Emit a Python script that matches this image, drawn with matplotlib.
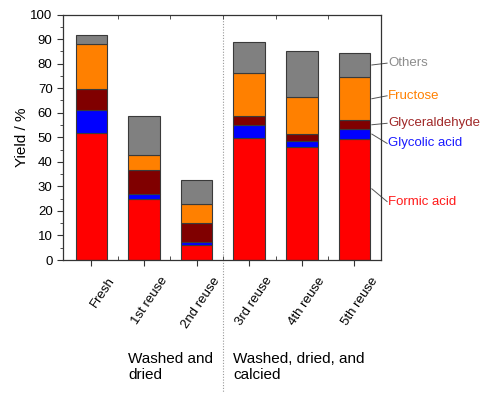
import numpy as np
import matplotlib
matplotlib.use("Agg")
import matplotlib.pyplot as plt
from matplotlib.transforms import ScaledTranslation, blended_transform_factory

plt.rcParams['font.family'] = ['Liberation Sans', 'DejaVu Sans']

# data
samples = ['Fresh', '1st reuse', '2nd reuse', '3rd reuse', '4th reuse', '5th reuse']
formic = [51.9, 24.8, 6.2, 49.8, 46.2, 49.4]
glycolic = [9.3, 2.0, 1.3, 5.1, 2.1, 3.8]
glyceraldehyde = [8.3, 10.0, 7.5, 3.6, 3.0, 3.8]
fructose = [18.6, 5.8, 7.8, 17.8, 15.2, 17.4]
others = [3.7, 15.9, 9.9, 12.4, 18.6, 10.1]

series = [formic, glycolic, glyceraldehyde, fructose, others]
names = ['Formic acid', 'Glycolic acid', 'Glyceraldehyde', 'Fructose', 'Others']
colors = ['#ff0000', '#0000ff', '#800000', '#ff8000', '#808080']
text_colors = ['#ff1a1a', '#1a1aff', '#a02828', '#ff8000', '#8c8c8c']

fig = plt.figure(figsize=(4.82, 3.93), dpi=100)
ax = fig.add_axes([0.1307, 0.3384, 0.6593, 0.6246])

x = np.arange(1, len(samples) + 1)
bottom = np.zeros(len(samples))
for vals, c in zip(series, colors):
    ax.bar(x, vals, 0.6, bottom=bottom, color=c, edgecolor='#3a3a3a', linewidth=0.8, zorder=2)
    bottom += np.array(vals)

ax.set_xlim(0.46, 6.5)
ax.set_ylim(0, 100)
ax.set_yticks(np.arange(0, 101, 10))
ax.set_yticks(np.arange(0, 101, 5), minor=True)
ax.set_xticks(x)
ax.set_xticks(x[:-1] + 0.5, minor=True)
ax.set_xticklabels([])
ax.tick_params(axis='y', which='major', direction='out', length=4, labelsize=9.5, color='#333333')
ax.tick_params(axis='y', which='minor', direction='out', length=2, color='#333333')
ax.tick_params(axis='x', which='major', direction='out', length=4, color='#333333')
ax.tick_params(axis='x', which='minor', direction='in', length=3, top=True, bottom=True, color='#333333')
for s in ax.spines.values():
    s.set_color('#333333')
    s.set_linewidth(0.9)

# rotated sample labels, shifted right of their ticks like the original
shift = ax.transData + ScaledTranslation(0.16, -0.15, fig.dpi_scale_trans)
for xi, s in zip(x, samples):
    ax.text(xi, 0, s, transform=shift, rotation=56, ha='right', va='top',
            rotation_mode='anchor', fontsize=9.5, clip_on=False)

ax.set_ylabel('Yield / %', fontsize=11, labelpad=1)

# dotted separator between the two treatment groups
ax.axvline(3.5, ymin=-0.55, ymax=1, color='#999999', linestyle=(0, (1, 1.5)), linewidth=0.8,
           clip_on=False, zorder=1)

# right-hand labels with leader lines from the last bar
mids = np.cumsum([0] + [s[-1] for s in series])
start_y = [(mids[i] + mids[i + 1]) / 2 for i in range(len(series))]
start_y[0] = 29.0
label_y = [23.8, 47.5, 55.7, 66.9, 80.2]
for n, c, y0, y1 in zip(names, text_colors, start_y, label_y):
    ax.plot([6.33, 6.62], [y0, y1], color='#555555', linewidth=0.7, clip_on=False)
    ax.text(6.64, y1, n, color=c, fontsize=9.5, va='center', ha='left', clip_on=False)

# group captions
tr = blended_transform_factory(ax.transData, fig.transFigure)
ax.text(1.7, 1 - 352 / 393, 'Washed and\ndried', transform=tr, fontsize=11,
        ha='left', va='top', linespacing=1.2)
ax.text(3.7, 1 - 352 / 393, 'Washed, dried, and\ncalcied', transform=tr, fontsize=11,
        ha='left', va='top', linespacing=1.2)

fig.savefig('out.png', dpi=100)
